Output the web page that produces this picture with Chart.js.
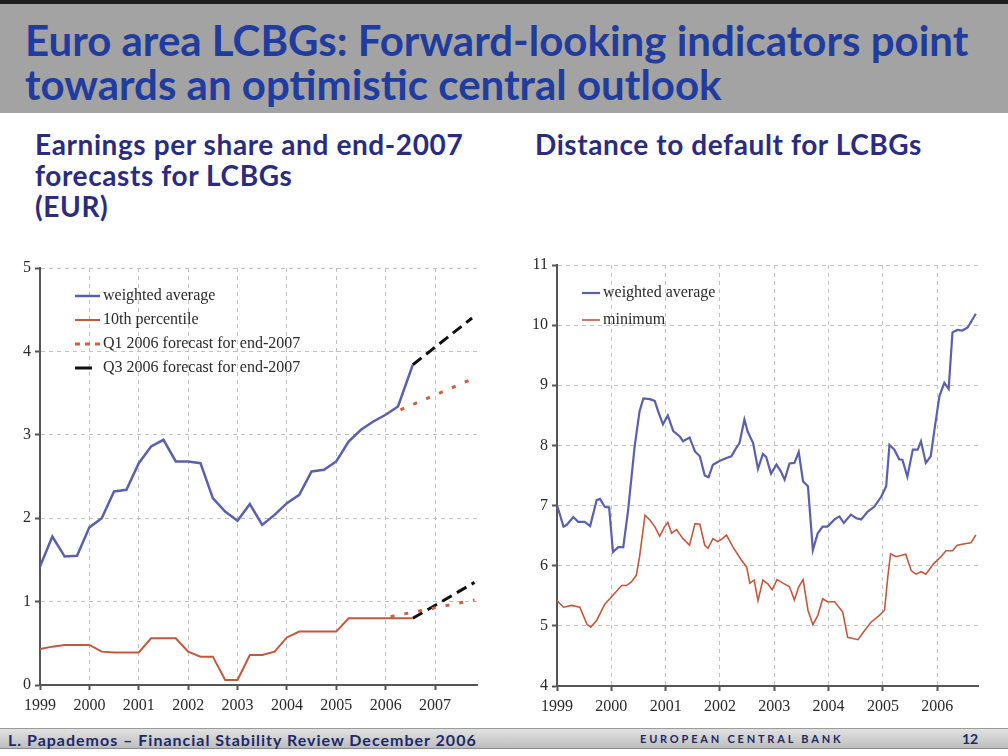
<!DOCTYPE html>
<html>
<head>
<meta charset="utf-8">
<script src="https://cdn.jsdelivr.net/npm/chart.js@4.4.0/dist/chart.umd.min.js"></script>
<style>
    body { margin: 0; width: 1008px; height: 756px; position: relative; overflow: hidden; background: #fff; font-family: Lato, sans-serif; }
    #header { position: absolute; left: 0; top: 0; width: 1008px; height: 113px; background: #a3a3a3; border-top: 4px solid #1e1e1e; box-sizing: border-box; }
    #header div { position: absolute; left: 25px; font-weight: 700; font-size: 42px; line-height: 43px; color: #1f3c9e; white-space: nowrap; }
    .sub { position: absolute; font-weight: 700; font-size: 28px; line-height: 31px; letter-spacing: 0.6px; color: #2b2c7e; white-space: nowrap; }
    .box { position: absolute; }
    #footer { position: absolute; left: 0; top: 728px; width: 1008px; height: 21px; background: linear-gradient(#e2e2e2, #bdbdbd); border-top: 1px solid #9a9a9a; border-bottom: 1px solid #8a8a8a; box-sizing: border-box; }
    #footer span { position: absolute; top: 1px; font-weight: 700; color: #1c2a66; white-space: nowrap; }
</style>
</head>
<body>
<div id="header">
    <div style="top:15px">Euro area LCBGs: Forward-looking indicators point</div>
    <div style="top:59px">towards an optimistic central outlook</div>
</div>
<div class="sub" style="left:35px; top:129px">Earnings per share and end-2007<br>forecasts for LCBGs<br>(EUR)</div>
<div class="sub" style="left:535px; top:129px">Distance to default for LCBGs</div>

<div class="box" style="left:0; top:250px; width:500px; height:480px"><canvas id="chartEps"></canvas></div>
<div class="box" style="left:500px; top:250px; width:508px; height:480px"><canvas id="chartDistance"></canvas></div>

<div id="footer">
    <span style="left:8px; font-size:16px; letter-spacing:1px">L. Papademos – Financial Stability Review December 2006</span>
    <span style="left:640px; font-size:11px; letter-spacing:2.8px; top:3px">EUROPEAN CENTRAL BANK</span>
    <span style="left:962px; font-size:14px">12</span>
</div>

<script>
// earnings per share (EUR), quarterly
var epsDates = [1999, 1999.25, 1999.5, 1999.75, 2000, 2000.25, 2000.5, 2000.75,
    2001, 2001.25, 2001.5, 2001.75, 2002, 2002.25, 2002.5, 2002.75,
    2003, 2003.25, 2003.5, 2003.75, 2004, 2004.25, 2004.5, 2004.75,
    2005, 2005.25, 2005.5, 2005.75, 2006, 2006.25, 2006.55];
var epsAverage = [1.42, 1.78, 1.54, 1.55, 1.89, 2.00, 2.32, 2.34,
    2.66, 2.86, 2.94, 2.68, 2.68, 2.66, 2.24, 2.08,
    1.97, 2.17, 1.92, 2.04, 2.18, 2.28, 2.56, 2.58,
    2.68, 2.92, 3.06, 3.16, 3.24, 3.34, 3.84];
var epsTenth = [0.43, 0.46, 0.48, 0.48, 0.48, 0.40, 0.39, 0.39,
    0.39, 0.56, 0.56, 0.56, 0.40, 0.34, 0.34, 0.06,
    0.06, 0.36, 0.36, 0.40, 0.57, 0.64, 0.64, 0.64,
    0.64, 0.80, 0.80, 0.80, 0.80, 0.80, 0.80];

// forecasts for end-2007
var q1AverageDates = [2006.3, 2007.8];
var q1AverageValues = [3.30, 3.68];
var q1TenthDates = [2006.1, 2007.8];
var q1TenthValues = [0.82, 1.02];
var q3AverageDates = [2006.55, 2007.75];
var q3AverageValues = [3.84, 4.40];
var q3TenthDates = [2006.55, 2007.8];
var q3TenthValues = [0.80, 1.23];

// distance to default
var ddAverageDates = [1999.00, 1999.12, 1999.18, 1999.30, 1999.39, 1999.51, 1999.61, 1999.73, 1999.79, 1999.88,
    1999.96, 2000.03, 2000.13, 2000.22, 2000.31, 2000.43, 2000.52, 2000.59, 2000.71, 2000.80,
    2000.86, 2000.95, 2001.04, 2001.14, 2001.26, 2001.32, 2001.44, 2001.54, 2001.63, 2001.72,
    2001.79, 2001.87, 2001.99, 2002.12, 2002.21, 2002.30, 2002.36, 2002.45, 2002.51, 2002.61,
    2002.70, 2002.79, 2002.85, 2002.94, 2003.04, 2003.12, 2003.19, 2003.28, 2003.37, 2003.45,
    2003.53, 2003.62, 2003.71, 2003.80, 2003.89, 2003.98, 2004.11, 2004.20, 2004.28, 2004.41,
    2004.51, 2004.60, 2004.72, 2004.84, 2004.97, 2005.06, 2005.12, 2005.21, 2005.30, 2005.36,
    2005.45, 2005.55, 2005.64, 2005.70, 2005.79, 2005.88, 2005.94, 2006.04, 2006.13, 2006.21,
    2006.28, 2006.37, 2006.46, 2006.56, 2006.71];
var ddAverage = [7.01, 6.65, 6.68, 6.81, 6.73, 6.73, 6.66, 7.09, 7.11, 6.98,
    6.97, 6.23, 6.31, 6.31, 6.93, 7.99, 8.57, 8.78, 8.77, 8.74,
    8.57, 8.35, 8.50, 8.24, 8.15, 8.07, 8.13, 7.90, 7.82, 7.50,
    7.47, 7.68, 7.74, 7.79, 7.82, 7.96, 8.04, 8.43, 8.23, 8.04,
    7.61, 7.86, 7.81, 7.53, 7.68, 7.57, 7.43, 7.70, 7.71, 7.89,
    7.40, 7.32, 6.26, 6.54, 6.65, 6.65, 6.77, 6.82, 6.71, 6.85,
    6.79, 6.77, 6.90, 6.98, 7.15, 7.32, 8.01, 7.93, 7.77, 7.76,
    7.48, 7.93, 7.93, 8.07, 7.71, 7.82, 8.21, 8.82, 9.04, 8.94,
    9.88, 9.92, 9.91, 9.96, 10.19];
var ddMinimumDates = [1999.00, 1999.12, 1999.27, 1999.42, 1999.55, 1999.62, 1999.73, 1999.88, 2000.03, 2000.19,
    2000.28, 2000.37, 2000.46, 2000.52, 2000.62, 2000.71, 2000.80, 2000.89, 2000.98, 2001.04,
    2001.11, 2001.20, 2001.32, 2001.44, 2001.54, 2001.63, 2001.72, 2001.78, 2001.87, 2001.96,
    2002.03, 2002.12, 2002.24, 2002.39, 2002.49, 2002.55, 2002.63, 2002.70, 2002.79, 2002.88,
    2002.96, 2003.05, 2003.16, 2003.28, 2003.37, 2003.45, 2003.53, 2003.62, 2003.71, 2003.80,
    2003.89, 2003.98, 2004.11, 2004.26, 2004.35, 2004.54, 2004.66, 2004.78, 2004.93, 2005.03,
    2005.09, 2005.14, 2005.24, 2005.42, 2005.52, 2005.61, 2005.70, 2005.79, 2005.94, 2006.07,
    2006.16, 2006.28, 2006.37, 2006.53, 2006.62, 2006.71];
var ddMinimum = [5.42, 5.31, 5.34, 5.31, 5.03, 4.98, 5.09, 5.36, 5.51, 5.67,
    5.67, 5.73, 5.84, 6.15, 6.84, 6.76, 6.65, 6.49, 6.65, 6.72,
    6.54, 6.60, 6.45, 6.34, 6.70, 6.69, 6.34, 6.29, 6.45, 6.40,
    6.44, 6.51, 6.31, 6.10, 5.98, 5.71, 5.76, 5.42, 5.76, 5.70,
    5.60, 5.77, 5.71, 5.65, 5.43, 5.65, 5.77, 5.26, 5.02, 5.17,
    5.45, 5.40, 5.40, 5.23, 4.81, 4.77, 4.92, 5.06, 5.17, 5.26,
    5.82, 6.20, 6.15, 6.19, 5.92, 5.86, 5.90, 5.86, 6.04, 6.15,
    6.25, 6.25, 6.34, 6.37, 6.38, 6.51];

var blue = '#5a5fae';
var red = '#c4583c';

function points(xs, ys) {
    return xs.map(function (x, i) {
        return { x: x, y: ys[i] };
    });
}

// legend drawn inside the plot, one item per row
var insideLegend = {
    id: 'insideLegend',
    afterDraw: function (chart, args, opts) {
        var ctx = chart.ctx;
        var y = opts.y;
        ctx.save();
        ctx.font = '16px "Liberation Serif", serif';
        ctx.textBaseline = 'middle';
        chart.data.datasets.forEach(function (ds) {
            if (!ds.label) return;
            ctx.beginPath();
            ctx.setLineDash(ds.legendDash || ds.borderDash || []);
            ctx.strokeStyle = ds.borderColor;
            ctx.lineWidth = ds.borderWidth;
            ctx.moveTo(opts.x, y);
            ctx.lineTo(opts.x + opts.lineLength, y);
            ctx.stroke();
            ctx.setLineDash([]);
            ctx.fillStyle = '#2a2a2a';
            ctx.fillText(ds.label, opts.x + opts.lineLength + 3, y);
            y += opts.lineHeight;
        });
        ctx.restore();
    }
};

function axes(xMin, xMax, yMin, yMax) {
    var tickFont = { family: '"Liberation Serif", serif', size: 16 };
    return {
        x: {
            type: 'linear', min: xMin, max: xMax,
            afterFit: function (scale) { scale.height = 30; },
            ticks: {
                stepSize: 1, includeBounds: false, color: '#2a2a2a', font: tickFont, padding: 6, maxRotation: 0,
                callback: function (v) { return String(v); }
            },
            grid: { color: '#c2c2c2', lineWidth: 1, tickLength: 5, tickColor: '#555', tickWidth: 2 },
            border: { color: '#555', width: 2, dash: [4, 4] }
        },
        y: {
            min: yMin, max: yMax,
            afterFit: function (scale) { scale.width = 30; },
            ticks: { stepSize: 1, color: '#2a2a2a', font: tickFont, padding: 4 },
            grid: { color: '#c2c2c2', lineWidth: 1, tickLength: 5, tickColor: '#555', tickWidth: 2 },
            border: { color: '#555', width: 2, dash: [4, 4] }
        }
    };
}

var epsChart = new Chart(document.getElementById('chartEps').getContext('2d'), {
    type: 'line',
    data: {
        datasets: [{
            label: 'weighted average',
            data: points(epsDates, epsAverage),
            borderColor: blue, borderWidth: 2.5
        }, {
            label: '10th percentile',
            data: points(epsDates, epsTenth),
            borderColor: red, borderWidth: 2
        }, {
            label: 'Q1 2006 forecast for end-2007',
            data: points(q1AverageDates, q1AverageValues),
            borderColor: '#d0603f', borderWidth: 3, borderDash: [4, 10], legendDash: [5, 5]
        }, {
            label: 'Q3 2006 forecast for end-2007',
            data: points(q3AverageDates, q3AverageValues),
            borderColor: '#111', borderWidth: 3, borderDash: [11, 6], legendDash: [17, 20]
        }, {
            label: '',
            data: points(q1TenthDates, q1TenthValues),
            borderColor: '#d0603f', borderWidth: 3, borderDash: [4, 10]
        }, {
            label: '',
            data: points(q3TenthDates, q3TenthValues),
            borderColor: '#111', borderWidth: 3, borderDash: [11, 6]
        }]
    },
    options: {
        responsive: true, maintainAspectRatio: false, animation: false,
        elements: { point: { radius: 0 }, line: { tension: 0 } },
        layout: { padding: { left: 10, top: 18, right: 23, bottom: 15 } },
        scales: axes(1999, 2007.85, 0, 5),
        plugins: {
            legend: { display: false },
            tooltip: { enabled: false },
            insideLegend: { x: 75, y: 46, lineLength: 25, lineHeight: 24 }
        }
    },
    plugins: [insideLegend]
});

var distanceChart = new Chart(document.getElementById('chartDistance').getContext('2d'), {
    type: 'line',
    data: {
        datasets: [{
            label: 'weighted average',
            data: points(ddAverageDates, ddAverage),
            borderColor: blue, borderWidth: 2.2
        }, {
            label: 'minimum',
            data: points(ddMinimumDates, ddMinimum),
            borderColor: red, borderWidth: 1.6
        }]
    },
    options: {
        responsive: true, maintainAspectRatio: false, animation: false,
        elements: { point: { radius: 0 }, line: { tension: 0 } },
        layout: { padding: { left: 27, top: 15, right: 30, bottom: 14 } },
        scales: axes(1999, 2006.75, 4, 11),
        plugins: {
            legend: { display: false },
            tooltip: { enabled: false },
            insideLegend: { x: 82, y: 43, lineLength: 18, lineHeight: 27 }
        }
    },
    plugins: [insideLegend]
});
</script>
</body>
</html>
